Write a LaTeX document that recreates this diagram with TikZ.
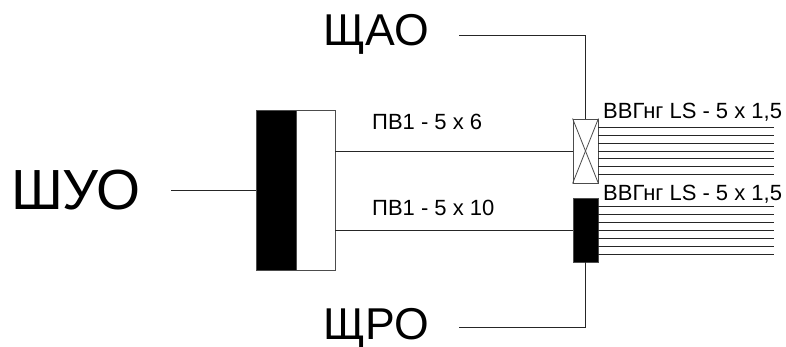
\documentclass[tikz,border=0pt]{standalone}
\usepackage{fontspec}
\setmainfont{Liberation Sans}
\begin{document}
\begin{tikzpicture}[x=1pt,y=-1pt]
		\tikzset{wire/.style = {draw=black!85,line width=0.8pt}}
		\tikzset{panel/.style = {shape=rectangle,draw=black!70,line width=0.8pt,inner sep=0pt}}
		\tikzset{bigname/.style = {inner sep=0pt,anchor=base,font=\fontsize{44.6}{44.6}\selectfont}}
		\tikzset{cable/.style = {inner sep=0pt,anchor=base west,font=\fontsize{22}{22}\selectfont}}
		\useasboundingbox (0,0) rectangle (786,347);
		% panels
		\node[panel,fill=black,minimum width=40pt,minimum height=160pt] (shuoa) at (276,190) {};
		\node[panel,fill=white,minimum width=39pt,minimum height=160pt] (shuob) at (315.5,190) {};
		\node[panel,fill=white,minimum width=25pt,minimum height=64pt] (shaobox) at (585.5,151) {};
		\node[panel,fill=black,minimum width=25pt,minimum height=64pt] (shrobox) at (585.5,230) {};
		% names
		\node[bigname,font=\fontsize{56.6}{56.6}\selectfont] (shuo) at (76,210) {ШУО};
		\node[bigname] (shao) at (376,46) {ЩАО};
		\node[bigname] (shro) at (376,339) {ЩРО};
		% cable labels
		\node[cable] (pva) at (372,130) {ПВ1 - 5 x 6};
		\node[cable] (pvb) at (372,216) {ПВ1 - 5 x 10};
		\node[cable] (vvga) at (603,119) {ВВГнг LS - 5 x 1,5};
		\node[cable] (vvgb) at (603,201) {ВВГнг LS - 5 x 1,5};
		% free ends
		\coordinate (shuoend) at (171,190);
		\coordinate (shaoend) at (459,35);
		\coordinate (shroend) at (459,327);
		%edges
		\draw[wire] (shuoend) to (shuoa.west);
		\draw[wire] (shuob.east |- shaobox.west) to (shaobox.west);
		\draw[wire] (shuob.east |- shrobox.west) to (shrobox.west);
		\draw[wire] (shaoend) -| (shaobox.north);
		\draw[wire] (shroend) -| (shrobox.south);
		\draw[wire,black!70] (shaobox.north west) to (shaobox.south east);
		\draw[wire,black!70] (shaobox.north east) to (shaobox.south west);
		\foreach \i in {-3,...,3} {
			\coordinate (aout\i) at (774,151+7.9*\i);
			\coordinate (bout\i) at (774,230.3+7.95*\i);
			\draw[wire] (shaobox.east |- aout\i) to (aout\i);
			\draw[wire] (shrobox.east |- bout\i) to (bout\i);
		}
\end{tikzpicture}
\end{document}
